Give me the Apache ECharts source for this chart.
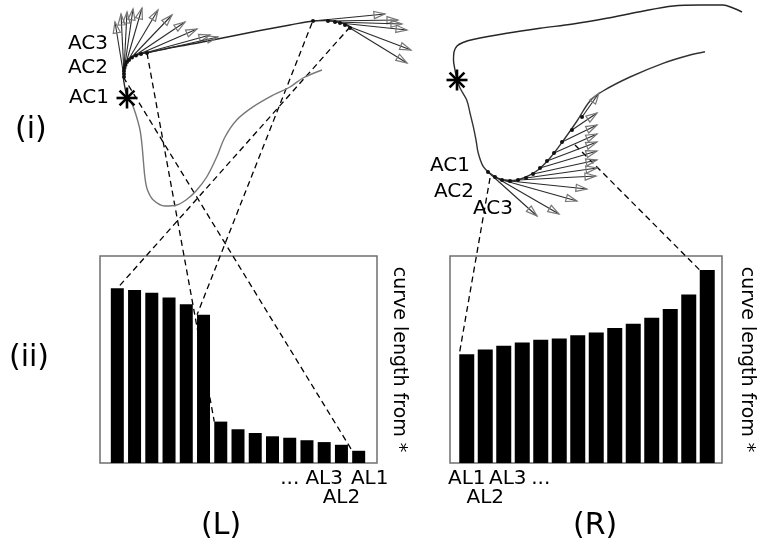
<!DOCTYPE html>
<html>
<head>
<meta charset="utf-8">
<script src="https://cdn.jsdelivr.net/npm/echarts@6/dist/echarts.min.js"></script>
<style>
  html, body { margin: 0; padding: 0; background: #fff; }
  #chart { width: 757px; height: 542px; }
</style>
</head>
<body>
<div id="chart"></div>
<script>
// ---- (L) curve, sketch units ------------------------------------------
// path from * through AC1..AC3 to the far end
const curveL_main = [[67,98],[65,88],[63.5,78],[63.5,70],[66,62],[72,57],[80,54],[88,52.5],
  [115,47],[140,42.5],[170,36.5],[200,30.5],[230,25],[253,21],[265,20.5],[275,21.5],[285,24],[292,28]];
// path from * in the other direction
const curveL_back = [[67,98],[71.7,103.3],[76,115],[80,130],[82,145],[83.3,160],[85,178],[87.5,190],
  [93.3,200],[105,206],[116.7,205],[126,200],[136,191],[146.7,177],[156.7,157],[165,137],
  [176.7,120],[193.3,106.7],[213.3,95],[230,87],[243,78],[262,70]];
// arrows: [x0, y0, x1, y1]
const arrowsL = [
  [64,77,55,22],[64,74,61,14],[64,71,67,12],[64.5,68,73,9],[65.5,65,82,8],[67,62,98,10],
  [69,60,112,15],[72,57.5,125,22],[76,55.5,137,29],[81,54,150,35],[87,53,158,37],
  [253,21,325,14],[268,21,338,20],[275,22,342,24],[280,23,347,30],[285,25,351,50],[290,28,347,63]
];
const startL = [[67,98]];
const acLabelsL = [{name:'AC3', value:[28,44]},{name:'AC2', value:[28,68]},{name:'AC1', value:[29,98]}];

// ---- (R) curve, sketch units ------------------------------------------
const curveR_main = [[37,80],[35,70],[33.5,60],[34,52],[37,46],[43,42.5],[53,39.5],[86.7,33.3],
  [120,28.3],[153,24],[186.7,18.3],[220,11.7],[253.3,6],[280,5],[303,5],[313,8],[322,12]];
const curveR_back = [[37,80],[40,88],[46.7,100],[50,113],[53.3,126.7],[56,140],[58.3,153.3],
  [63.3,166.7],[70,173.3],[80,179],[93,180.5],[106,177],[118,170],[130,158],[143,141],
  [157,121],[170,101],[183,91],[210,77],[243,63.3],[270,55],[285,51.7]];
const arrowsR = [
  [68,172,117,216],[75,177,139,214],[82,180,157,201],[90,181,167,189],[98,180,176,176],
  [106,178,177,168],[113,174,177,160],[120,168,177,151],[127,161,177,142],[134,153,177,134],
  [142,142,177,125],[152,130,177,113],[162,117,179,93]
];
const startR = [[37,80]];
const acLabelsR = [{name:'AC1', value:[30,166]},{name:'AC2', value:[34,191.5]},{name:'AC3', value:[73,208.5]}];

// ---- curve lengths from * ---------------------------------------------
const lengthsL = [84.4,83.6,82.3,80.0,76.7,71.6,20.0,16.3,14.5,12.9,12.2,11.0,10.1,8.8,5.9];
const lengthsR = [52.5,54.8,56.7,58.2,59.6,60.2,61.7,63.1,65.2,67.3,70.2,74.4,81.4,93.2];
const tickLabelsL = ['','','','','','','','','','','...','','AL3','AL2','AL1'];
const tickRowsL   = [0,0,0,0,0,0,0,0,0,0,0,0,0,1,0];
const tickLabelsR = ['AL1','AL2','AL3','','...','','','','','','','','',''];
const tickRowsR   = [0,1,0,0,0,0,0,0,0,0,0,0,0,0];

// dashed links: curve point -> bar top
const linksL = [
  {from:[290,27], bar:0, side:'mid'},
  {from:[252,23], bar:5, side:'left'},
  {from:[87,53],  bar:6, side:'left'},
  {from:[63.3,77], bar:14, side:'left'}
];
const linksR = [
  {from:[70,178], bar:0, side:'left'},
  {from:[155,145], bar:13, side:'left'}
];

const FONT = 'DejaVu Sans';
const chart = echarts.init(document.getElementById('chart'), null, {renderer: 'canvas'});

function renderArrow(params, api) {
  const p0 = api.coord([api.value(0), api.value(1)]);
  const p1 = api.coord([api.value(2), api.value(3)]);
  const dx = p1[0] - p0[0], dy = p1[1] - p0[1];
  const len = Math.hypot(dx, dy) || 1;
  const ux = dx / len, uy = dy / len;
  const hl = 11, hw = 3.6;
  const bx = p1[0] - ux * hl, by = p1[1] - uy * hl;
  const w1 = [bx - uy * hw, by + ux * hw];
  const w2 = [bx + uy * hw, by - ux * hw];
  return {
    type: 'group',
    children: [
      {type: 'line', shape: {x1: p0[0], y1: p0[1], x2: p1[0], y2: p1[1]},
       style: {stroke: '#2a2a2a', lineWidth: 1.1}},
      {type: 'polygon', shape: {points: [w1, p1, w2]},
       style: {fill: null, stroke: '#777', lineWidth: 1.2}},
      {type: 'circle', shape: {cx: p0[0], cy: p0[1], r: 2}, style: {fill: '#111'}}
    ]
  };
}

function renderStar(params, api) {
  const c = api.coord([api.value(0), api.value(1)]);
  const r = 10.5;
  const children = [];
  for (let k = 0; k < 4; k++) {
    const a = k * Math.PI / 4;
    children.push({type: 'line',
      shape: {x1: c[0] - r * Math.cos(a), y1: c[1] - r * Math.sin(a),
              x2: c[0] + r * Math.cos(a), y2: c[1] + r * Math.sin(a)},
      style: {stroke: '#000', lineWidth: 2.6}});
  }
  return {type: 'group', children};
}

// text labels AC1..AC3, drawn as plain text at their anchor points
function renderText(params, api) {
  const c = api.coord([api.value(0), api.value(1)]);
  return {type: 'text', x: c[0], y: c[1],
    style: {text: params.context.names[params.dataIndex], fill: '#000',
      font: '20px "' + FONT + '"', align: 'center', verticalAlign: 'middle'}};
}

function curveSeries(data, idx, color) {
  return {type: 'line', xAxisIndex: idx, yAxisIndex: idx, data, smooth: 0.35,
    showSymbol: false, silent: true, lineStyle: {color, width: 1.4}, z: 3};
}
function arrowSeries(data, idx) {
  return {type: 'custom', xAxisIndex: idx, yAxisIndex: idx, data, renderItem: renderArrow,
    encode: {x: [0, 2], y: [1, 3]}, silent: true, z: 4};
}
function starSeries(data, idx) {
  return {type: 'custom', xAxisIndex: idx, yAxisIndex: idx, data, renderItem: renderStar, silent: true, z: 5};
}
function labelSeries(items, idx) {
  const names = items.map(d => d.name);
  return {type: 'custom', xAxisIndex: idx, yAxisIndex: idx, silent: true, z: 6,
    data: items.map(d => d.value),
    renderItem: function (params, api) {
      params.context.names = names;
      return renderText(params, api);
    }};
}

function tickFormatter(labels, rows, nudge) {
  return function (v, i) {
    const t = labels[i];
    if (!t) return '';
    const prefix = rows[i] ? '\n' : '';
    return nudge[t] ? prefix + '{n' + nudge[t] + '|' + t + '}' : prefix + t;
  };
}
const nudgeRich = {
  n22: {padding: [0, 0, 0, 22], fontSize: 20, fontFamily: FONT, color: '#000', lineHeight: 19},
  n8:  {padding: [0, 0, 0, 8],  fontSize: 20, fontFamily: FONT, color: '#000', lineHeight: 19}
};

const hidden = {show: false};
function sketchX(idx, max) { return {gridIndex: idx, type: 'value', min: 0, max, show: false}; }
function sketchY(idx, max) { return {gridIndex: idx, type: 'value', min: 0, max, inverse: true, show: false}; }
function frameY(idx, gap) {
  return {gridIndex: idx, type: 'value', min: 0, max: 1, position: 'right',
    axisLine: hidden, axisTick: hidden, axisLabel: hidden, splitLine: hidden,
    name: 'curve length from *', nameLocation: 'middle', nameRotate: -90, nameGap: gap,
    nameTextStyle: {fontSize: 19, fontFamily: FONT, color: '#000'}};
}
function barX(idx, n, labels, rows, nudge) {
  return {gridIndex: idx, type: 'category', data: labels.map((_, i) => String(i + 1)),
    axisLine: hidden, axisTick: hidden, splitLine: hidden,
    axisLabel: {interval: 0, margin: 6, fontSize: 20, lineHeight: 19, color: '#000',
      fontFamily: FONT, formatter: tickFormatter(labels, rows, nudge), rich: nudgeRich}};
}
function barY(idx) { return {gridIndex: idx, type: 'value', min: 0, max: 100, show: false}; }

const frameStyle = {show: true, borderColor: '#6f6f6f', borderWidth: 1.5, backgroundColor: 'transparent'};
const titleStyle = {fontSize: 30, fontWeight: 'normal', fontFamily: FONT, color: '#000'};

const option = {
  animation: false,
  backgroundColor: '#fff',
  title: [
    {text: '(i)',  left: 15,  top: 115, padding: 0, textStyle: titleStyle},
    {text: '(ii)', left: 9,   top: 343, padding: 0, textStyle: titleStyle},
    {text: '(L)',  left: 201, top: 511, padding: 0, textStyle: titleStyle},
    {text: '(R)',  left: 573, top: 511, padding: 0, textStyle: titleStyle}
  ],
  grid: [
    {left: 60, top: 0, width: 330, height: 230},
    {left: 420, top: 0, width: 337, height: 240},
    Object.assign({left: 100, top: 256, width: 277, height: 207}, frameStyle),
    {left: 108.7, top: 256, width: 258.6, height: 207},
    Object.assign({left: 450, top: 256, width: 276, height: 207}, frameStyle),
    {left: 457.5, top: 256, width: 259, height: 207}
  ],
  xAxis: [
    sketchX(0, 330), sketchX(1, 337),
    {gridIndex: 2, type: 'value', min: 0, max: 1, show: false},
    barX(3, 15, tickLabelsL, tickRowsL, {AL1: 22}),
    {gridIndex: 4, type: 'value', min: 0, max: 1, show: false},
    barX(5, 14, tickLabelsR, tickRowsR, {AL3: 8})
  ],
  yAxis: [
    sketchY(0, 230), sketchY(1, 240),
    frameY(2, 12), barY(3),
    frameY(4, 15), barY(5)
  ],
  series: [
    {type: 'bar', name: 'L', xAxisIndex: 3, yAxisIndex: 3, data: lengthsL, barWidth: 13,
     itemStyle: {color: '#000'}, silent: true, z: 3},
    {type: 'bar', name: 'R', xAxisIndex: 5, yAxisIndex: 5, data: lengthsR, barWidth: 15,
     itemStyle: {color: '#000'}, silent: true, z: 3},
    curveSeries(curveL_main, 0, '#262626'),
    curveSeries(curveL_back, 0, '#777'),
    curveSeries(curveR_main, 1, '#262626'),
    curveSeries(curveR_back, 1, '#333'),
    arrowSeries(arrowsL, 0),
    arrowSeries(arrowsR, 1),
    starSeries(startL, 0),
    starSeries(startR, 1),
    labelSeries(acLabelsL, 0),
    labelSeries(acLabelsR, 1)
  ]
};
chart.setOption(option);

// dashed connectors between curve points and the matching bars
function connectors(links, sketchGrid, barSeries, barWidth) {
  return links.map(function (lk) {
    const a = chart.convertToPixel({gridIndex: sketchGrid}, lk.from);
    const b = chart.convertToPixel({seriesIndex: barSeries}, [lk.bar, option.series[barSeries].data[lk.bar]]);
    const bx = lk.side === 'left' ? b[0] - barWidth / 2 : b[0];
    return {type: 'line', z: 1, silent: true,
      shape: {x1: a[0], y1: a[1], x2: bx, y2: b[1]},
      style: {stroke: '#000', lineWidth: 1.3, lineDash: [6, 4]}};
  });
}
chart.setOption({
  graphic: {elements: connectors(linksL, 0, 0, 13).concat(connectors(linksR, 1, 1, 15))}
});
</script>
</body>
</html>
